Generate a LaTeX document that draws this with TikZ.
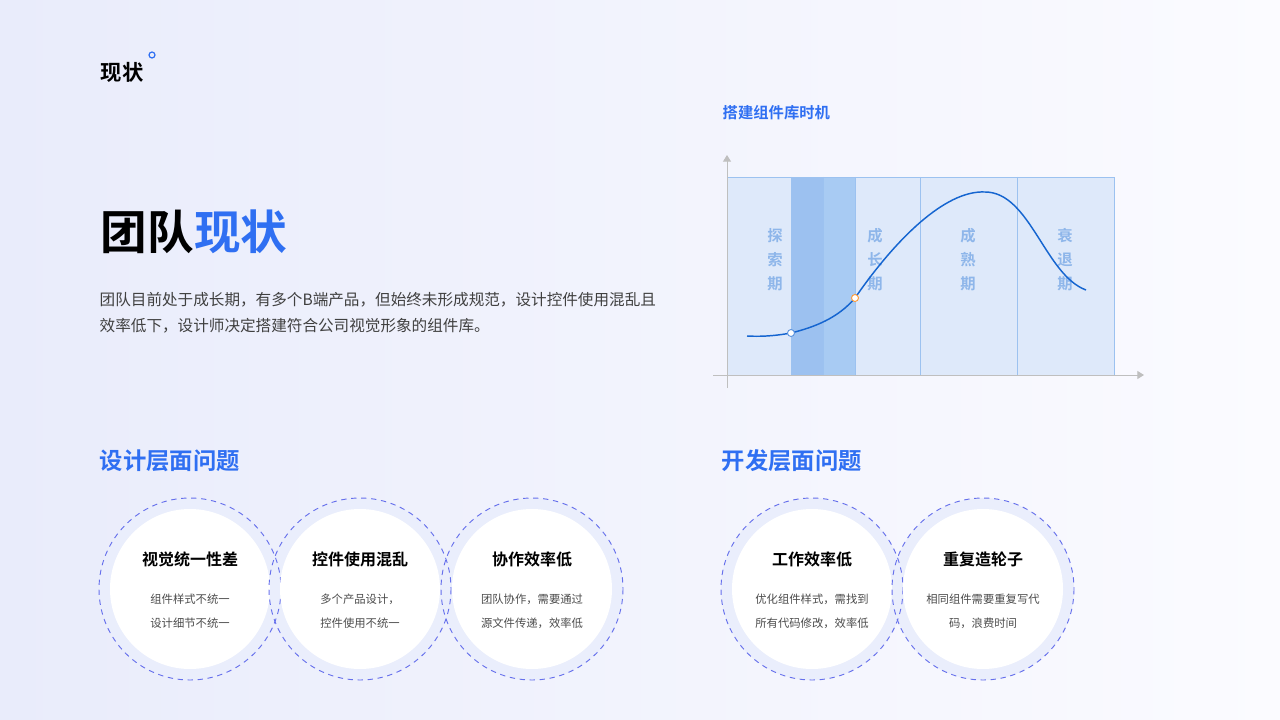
\documentclass[tikz,border=0pt]{standalone}
\usepackage{fontspec}
\setmainfont{Noto Sans CJK SC}
\newfontfamily\cjkb{Noto Sans CJK SC Bold}
\usetikzlibrary{arrows.meta}
\definecolor{bluet}{HTML}{2F6FF2}
\definecolor{bgA}{HTML}{E9ECFB}
\definecolor{bgB}{HTML}{FBFBFF}
\definecolor{panel}{HTML}{DCE8FA}
\definecolor{edge}{HTML}{9CC2F0}
\definecolor{dark}{HTML}{9CC1F0}
\definecolor{dark2}{HTML}{A8CBF3}
\definecolor{lbl}{HTML}{8EB6EA}
\definecolor{curve}{HTML}{1565D0}
\definecolor{dashc}{HTML}{6670EC}
\definecolor{ring}{HTML}{EAEEFC}
\tikzset{
 x=0.75pt,y=-0.75pt,
 ctitle/.style={font=\cjkb\fontsize{12}{14}\selectfont,text=black},
 csub/.style={font=\fontsize{8.5}{10}\selectfont,text=black!70,align=center},
 sect/.style={font=\cjkb\fontsize{17.5}{19}\selectfont,text=bluet,anchor=west},
 plbl/.style={font=\cjkb\fontsize{11.5}{13}\selectfont,text=lbl},
 axis/.style={draw=black!25,line width=0.7pt,-{Triangle[length=5pt,width=6pt]}},
}
\begin{document}
\begin{tikzpicture}
\shade[left color=bgA,right color=bgB] (0,0) rectangle (1280,720);
\useasboundingbox (0,0) rectangle (1280,720);
% header
\node[anchor=west,font=\cjkb\fontsize{16}{18}\selectfont] (hd) at (96,72) {现状};
\draw[bluet,line width=0.9pt] (152,55) circle (3);
\node[anchor=west,font=\cjkb\fontsize{35}{40}\selectfont] (big) at (96,232) {团队\textcolor{bluet}{现状}};
\node[anchor=north west,font=\fontsize{11.7}{19.5}\selectfont,text=black!75,align=left] (para) at (95,288) {团队目前处于成长期，有多个B端产品，但始终未形成规范，设计控件使用混乱且\\效率低下，设计师决定搭建符合公司视觉形象的组件库。};
% chart
\node[anchor=west,font=\cjkb\fontsize{11.5}{13}\selectfont,text=bluet] (ct) at (718,113) {搭建组件库时机};
\fill[panel,opacity=0.9] (727,177) rectangle (1114,375);
\fill[dark] (791,177) rectangle (823,375);
\fill[dark2] (823,177) rectangle (855,375);
\draw[edge,line width=0.6pt] (727,177) rectangle (1114,375);
\foreach \xx in {791,823,855,920,1017} \draw[edge,line width=0.6pt] (\xx,177) -- (\xx,375);
\coordinate (ya) at (727,388); \coordinate (yb) at (727,155);
\coordinate (xa) at (713,375); \coordinate (xb) at (1144,375);
\draw[axis] (ya) -- (yb);
\draw[axis] (xa) -- (xb);
\foreach \xx/\a/\b/\c in {775/探/索/期,875/成/长/期,968/成/熟/期,1065/衰/退/期}{
 \node[plbl] at (\xx,236) {\a};\node[plbl] at (\xx,260) {\b};\node[plbl] at (\xx,284) {\c};}
\coordinate (p0) at (747,336); \coordinate (p1) at (791,333); \coordinate (p2) at (855,298);
\coordinate (p3) at (985,192); \coordinate (p4) at (1086,290);
\draw[curve,line width=1.1pt] (p0) .. controls (765,337) and (780,335) .. (p1)
 .. controls (815,327) and (838,318) .. (p2)
 .. controls (895,240) and (945,190) .. (p3)
 .. controls (1030,192) and (1045,275) .. (p4);
\filldraw[draw=curve!70,fill=white,line width=0.7pt] (p1) circle (3.5);
\filldraw[draw=orange!80,fill=white,line width=0.7pt] (p2) circle (3.5);
% sections
\node[sect] (s1) at (95,461) {设计层面问题};
\node[sect] (s2) at (717,461) {开发层面问题};
\foreach \cx in {190,360,532,812,983}{\fill[ring] (\cx,589) circle (91);}
\foreach \cx/\t/\la/\lb in {190/视觉统一性差/组件样式不统一/设计细节不统一,360/控件使用混乱/多个产品设计，/控件使用不统一,532/协作效率低/团队协作，需要通过/源文件传递，效率低,812/工作效率低/优化组件样式，需找到/所有代码修改，效率低,983/重复造轮子/相同组件需要重复写代/码，浪费时间}{
 \fill[white] (\cx,589) circle (80);
 \draw[dashc,dash pattern=on 4pt off 3.5pt,line width=0.7pt] (\cx,589) circle (91);
 \node[ctitle] at (\cx,559) {\t};
 \node[csub] at (\cx,599) {\la};
 \node[csub] at (\cx,623) {\lb};}
\end{tikzpicture}
\end{document}
